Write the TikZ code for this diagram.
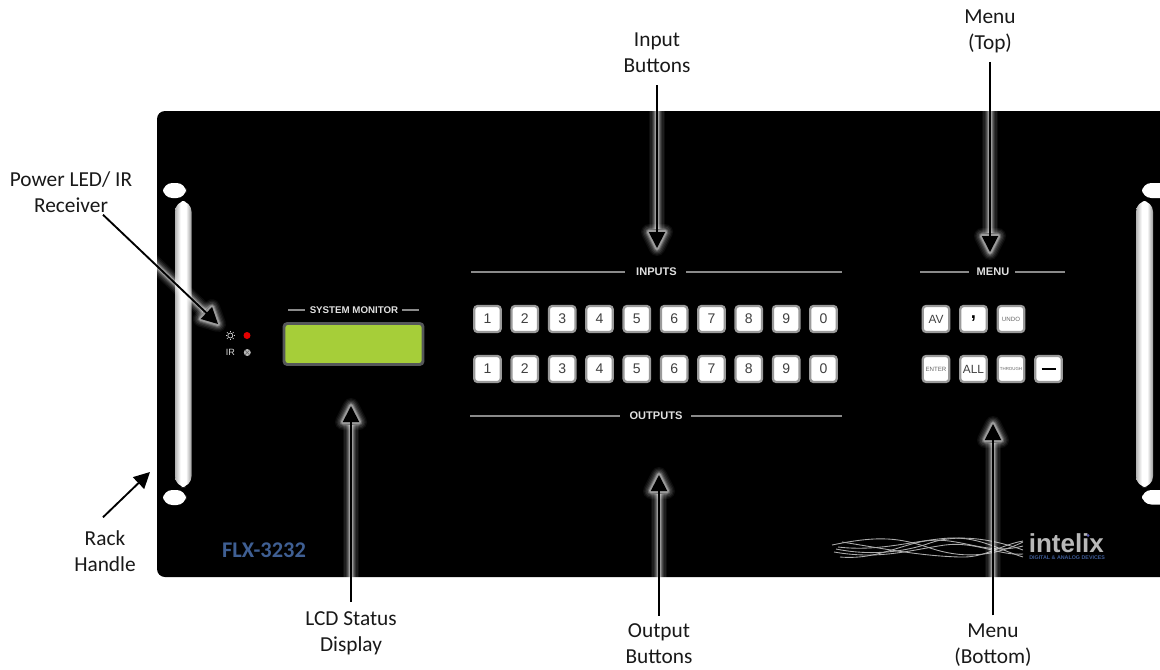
\documentclass[tikz,border=0pt]{standalone}
\usepackage{fontspec}
\setmainfont{Carlito}
\newfontfamily\panelfont{Liberation Sans}
\usetikzlibrary{arrows.meta,calc}
\definecolor{btnedge}{HTML}{9A9A9A}
\definecolor{lcdgreen}{HTML}{A6CE39}
\definecolor{lcdedge}{HTML}{555759}
\definecolor{modelblue}{HTML}{3F5F93}
\definecolor{logoblue}{HTML}{3D5A94}
\definecolor{rulegray}{HTML}{8A8A8A}
\pgfdeclarehorizontalshading{handleshade}{100bp}{color(0bp)=(black!32); color(25bp)=(black!30); color(42bp)=(white); color(58bp)=(white); color(75bp)=(black!40); color(100bp)=(black!48)}
\tikzset{
  panel/.style={fill=black,draw=none,rounded corners=6},
  handlebar/.style={draw=none,rounded corners=8,shading=handleshade},
  slot/.style={fill=white,draw=none,rounded corners=7},
  btn/.style={draw=btnedge,fill=white,line width=1.7pt,rounded corners=2.5,minimum width=26.5*0.75pt,minimum height=26*0.75pt,inner sep=0pt,font=\panelfont\fontsize{10.5}{11}\selectfont,text=black!75},
  btnword/.style={btn,font=\panelfont\fontsize{8.9}{10}\selectfont},
  btnsmall/.style={btn,font=\panelfont\fontsize{4.6}{5}\selectfont,text=black!60},
  paneltitle/.style={font=\panelfont\bfseries\fontsize{8.3}{9}\selectfont,text=white!88!black,inner sep=0pt},
  rulegrey/.style={draw=rulegray,line width=0.9pt},
  callout/.style={font=\fontsize{16}{19.5}\selectfont,align=center,text=black!90,inner sep=0pt},
  pointer/.style={draw=black,line width=1.4pt,-{Triangle[length=12pt,width=12pt]}},
  wave/.style={draw=white!68!black,line width=0.65pt},
}
\newcommand{\glowline}[2]{%
  \foreach \w/\o in {12/0.05,10/0.07,8/0.09,6/0.13,4.5/0.2,3/0.3}{%
    \draw[white,line width=\w pt,opacity=\o] (#1) -- ($(#2)!14pt!(#1)$);
    \draw[white,line width=\w pt,opacity=\o,line join=round,fill=white,fill opacity=0]
      (#2) -- ($($(#2)!12pt!(#1)$)!6pt!90:(#2)$) -- ($($(#2)!12pt!(#1)$)!6pt!-90:(#2)$) -- cycle;
  }%
}
\begin{document}
\begin{tikzpicture}[x=0.75pt,y=-0.75pt]
\useasboundingbox (0,0) rectangle (1160,669);
\fill[white] (0,0) rectangle (1160,669);
% panel
\path[panel] (157,111) rectangle (1175,577);
% handles
\path[handlebar] (175,201) rectangle (191.5,487);
\path[handlebar] (1136,201) rectangle (1153,487);
\path[slot] (163,183) rectangle (186,198);
\path[slot] (163,490) rectangle (186,505);
\path[slot] (1142,183) rectangle (1172,198);
\path[slot] (1142,490) rectangle (1172,504.5);
% system monitor
\node[paneltitle,font=\panelfont\bfseries\fontsize{7.3}{8}\selectfont] (sysmon) at (354,310) {SYSTEM MONITOR};
\draw[rulegrey] (288,310) -- (305,310);
\draw[rulegrey] (402,310) -- (419,310);
\node[draw=lcdedge,fill=lcdgreen,line width=2.2pt,rounded corners=2.5,minimum width=139*0.75pt,minimum height=41*0.75pt,inner sep=0pt] (lcd) at (353.5,344) {};
% leds
\foreach \a in {0,45,...,315}{\draw[white!85!black,line width=0.45pt] ($(230.3,335.5)+(\a:3.2)$) -- ($(230.3,335.5)+(\a:4.8)$);}
\node[draw=white!85!black,circle,line width=0.5pt,minimum size=5*0.75pt,inner sep=0pt] (sun) at (230.3,335.5) {};
\node[fill=red!90!black,circle,minimum size=7*0.75pt,inner sep=0pt] (led) at (247,335.5) {};
\node[font=\panelfont\fontsize{6.8}{7}\selectfont,text=white!85!black,inner sep=0pt] (irtext) at (230.5,352.5) {IR};
\node[fill=white!72!black,circle,minimum size=7*0.75pt,inner sep=0pt] (irdot) at (247.3,352.5) {};
\draw[black!60,line width=0.4pt] (245,350.2) -- (249.6,354.8) (245,354.8) -- (249.6,350.2);
% titles
\node[paneltitle] (inputs) at (656.5,272) {INPUTS};
\draw[rulegrey] (471,272) -- (625,272);
\draw[rulegrey] (686,272) -- (842,272);
\node[paneltitle] (outputs) at (656,416) {OUTPUTS};
\draw[rulegrey] (470,416) -- (620,416);
\draw[rulegrey] (691,416) -- (842,416);
\node[paneltitle] (menu) at (993,272) {MENU};
\draw[rulegrey] (920,272) -- (969,272);
\draw[rulegrey] (1015,272) -- (1065,272);
% buttons
\foreach \t [count=\i from 0] in {1,2,3,4,5,6,7,8,9,0}{
  \node[btn] (in\i) at ({487.5+37.33*\i},319) {\t};
  \node[btn] (out\i) at ({487.5+37.33*\i},369) {\t};
}
\node[btnword] (av) at (936,319) {AV};
\node[btn,font=\panelfont\bfseries\fontsize{14}{14}\selectfont,text=black] (comma) at (973.5,319) {\raisebox{2.5pt}{,}};
\node[btnsmall] (undo) at (1011,319) {UNDO};
\node[btnsmall] (enter) at (936,369) {ENTER};
\node[btnword] (all) at (973.5,369) {ALL};
\node[btnsmall,font=\panelfont\fontsize{3.3}{4}\selectfont] (through) at (1011,369) {THROUGH};
\node[btn] (dash) at (1048.5,369) {};
\draw[black,line width=1.1pt] (1041.5,369) -- (1055.5,369);
% model
\node[font=\bfseries\fontsize{16.8}{18}\selectfont,text=modelblue,inner sep=0pt] (model) at (264,550.5) {FLX-3232};
% logo
\draw[wave] (832,545) .. controls (880,535) and (900,538) .. (930,548) .. controls (960,558) and (990,558) .. (1023,542);
\draw[wave] (836,549) .. controls (870,556) and (905,552) .. (930,543) .. controls (955,534) and (990,538) .. (1023,550);
\draw[wave] (834,552) .. controls (880,560) and (910,550) .. (945,545) .. controls (975,541) and (1000,556) .. (1023,554);
\draw[wave] (840,557) .. controls (875,560) and (900,545) .. (925,541) .. controls (960,536) and (985,556) .. (1023,546);
\draw[wave] (842,542) .. controls (880,548) and (920,556) .. (960,557) .. controls (985,558) and (1000,545) .. (1023,541);
\draw[wave] (838,547) .. controls (880,552) and (915,540) .. (950,538) .. controls (980,537) and (1000,550) .. (1023,557);
\node[font=\panelfont\bfseries\fontsize{19.5}{20}\selectfont,text=white!72!black,inner sep=0pt,anchor=base west] (logo) at (1028.5,552) {intelix};
\node[font=\panelfont\bfseries\fontsize{4}{5}\selectfont,text=logoblue,inner sep=0pt,anchor=west] (logosub) at (1029,557.5) {DIGITAL \& ANALOG DEVICES};
\fill[blue!50!white!70!black] (1088,535.5) circle (1.5);
% labels
\node[callout] (lblinput) at (657,53) {Input\\Buttons};
\node[callout] (lblmenutop) at (990,31) {Menu\\(Top)};
\node[callout] (lblpower) at (71,192) {Power LED/ IR\\Receiver};
\node[callout] (lblrack) at (105,551) {Rack\\Handle};
\node[callout] (lbllcd) at (351,633) {LCD Status\\Display};
\node[callout] (lbloutput) at (659,644) {Output\\Buttons};
\node[callout] (lblmenubot) at (993,645) {Menu\\(Bottom)};
% arrows
\coordinate (tipinput) at (657,248);
\coordinate (tipmenutop) at (990,252);
\coordinate (tippower) at (218,324);
\coordinate (tiprack) at (150,472);
\coordinate (tiplcd) at (351,406);
\coordinate (tipoutput) at (659,475);
\coordinate (tipmenubot) at (993,424);
\coordinate (stinput) at ($(lblinput.south)+(0,12)$);
\coordinate (stmenutop) at ($(lblmenutop.south)+(0,9)$);
\coordinate (stpower) at ($(lblpower.south)+(32,2)$);
\coordinate (strack) at ($(lblrack.north)+(-2,-13)$);
\coordinate (stlcd) at ($(lbllcd.north)+(0,-9)$);
\coordinate (stoutput) at ($(lbloutput.north)+(0,-8)$);
\coordinate (stmenubot) at ($(lblmenubot.north)+(0,-8)$);
\begin{scope}
\clip (157,111) rectangle (1160,577);
\glowline{stinput}{tipinput}
\glowline{stmenutop}{tipmenutop}
\glowline{stpower}{tippower}
\glowline{stlcd}{tiplcd}
\glowline{stoutput}{tipoutput}
\glowline{stmenubot}{tipmenubot}
\end{scope}
\draw[pointer] (stinput) -- (tipinput);
\draw[pointer] (stmenutop) -- (tipmenutop);
\draw[pointer] (stpower) -- (tippower);
\draw[pointer] (strack) -- (tiprack);
\draw[pointer] (stlcd) -- (tiplcd);
\draw[pointer] (stoutput) -- (tipoutput);
\draw[pointer] (stmenubot) -- (tipmenubot);
\end{tikzpicture}
\end{document}
